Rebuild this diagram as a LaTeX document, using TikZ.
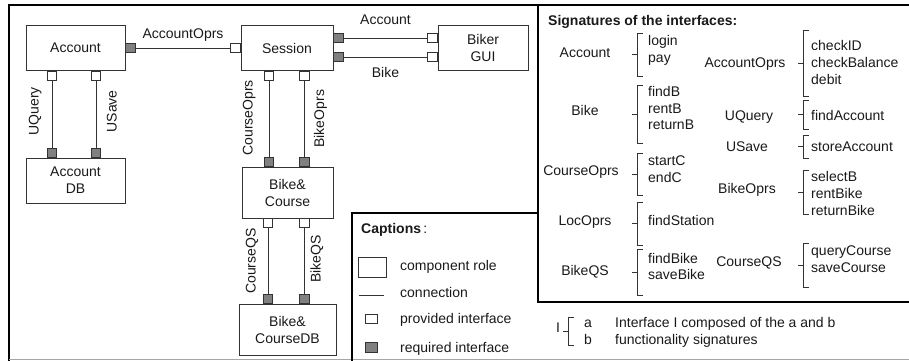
\documentclass[tikz,border=0pt]{standalone}
\usepackage{fontspec}
\setmainfont{Liberation Sans}
\usetikzlibrary{positioning}
\tikzstyle{comp} = [rectangle, draw=black!80, line width=0.8pt, align=center, minimum width=99pt, minimum height=45pt, inner sep=0pt]
\tikzstyle{prov} = [rectangle, draw=black!80, fill=white, line width=0.8pt, minimum width=9.5pt, minimum height=9pt, inner sep=0pt]
\tikzstyle{req} = [prov, fill=black!50]
\tikzstyle{conn} = [draw=black!80, line width=0.8pt]
\tikzstyle{frame} = [line width=2pt, black]
\tikzstyle{lbl} = [inner sep=1pt, text height=10pt, text depth=3pt]
\tikzstyle{itm} = [lbl, anchor=west]
\tikzstyle{brk} = [draw=black!80, line width=0.8pt]
\newcommand{\sigbrack}[3]{%
  \draw[brk] (#1+6,#2) -- (#1,#2) -- (#1,#3) -- (#1+6,#3);
  \draw[brk] (#1-5,{(#2+#3)/2}) -- (#1,{(#2+#3)/2});}

\begin{document}
\begin{tikzpicture}[x=1pt, y=-1pt, font=\fontsize{14}{17}\selectfont, text=black!90]
        \useasboundingbox (0,0) rectangle (909,360);
        % frames
        \draw[frame] (9,361) -- (9,5) -- (911,5);
        \draw[black!35, line width=0.8pt] (9,359.5) -- (909,359.5);
        \draw[frame] (538,5) -- (538,302) -- (911,302);
        \draw[frame] (352,362) -- (352,213) -- (538,213);

        % component roles
        \node (acc) [comp] at (75.5,48) {Account};
        \node (accdb) [comp] at (75.5,180.5) {Account\\DB};
        \node (sess) [comp, minimum width=92pt] at (287,48) {Session};
        \node (gui) [comp, minimum width=90pt] at (483,47.5) {Biker\\GUI};
        \node (bc) [comp, minimum width=91pt, minimum height=51pt] at (287.5,192.5) {Bike\&\\Course};
        \node (bcdb) [comp, minimum width=97pt, minimum height=51pt] at (287.5,329.5) {Bike\&\\CourseDB};

        % interfaces
        \node (accR) [req, right=0pt of acc] {};
        \node (sessL) [prov, left=0pt of sess] {};
        \node (accB1) [prov, below=0pt of acc, xshift=-23.5pt] {};
        \node (accB2) [prov, below=0pt of acc, xshift=20.5pt] {};
        \node (accdbT1) [req, above=0pt of accdb, xshift=-23.5pt] {};
        \node (accdbT2) [req, above=0pt of accdb, xshift=20.5pt] {};
        \node (sessR1) [req, right=0pt of sess, yshift=10pt] {};
        \node (sessR2) [req, right=0pt of sess, yshift=-9pt] {};
        \node (guiL1) [prov, left=0pt of gui, yshift=9.5pt] {};
        \node (guiL2) [prov, left=0pt of gui, yshift=-9.5pt] {};
        \node (sessB1) [prov, below=0pt of sess, xshift=-18pt] {};
        \node (sessB2) [prov, below=0pt of sess, xshift=17.5pt] {};
        \node (bcT1) [req, above=0pt of bc, xshift=-18.5pt] {};
        \node (bcT2) [req, above=0pt of bc, xshift=17pt] {};
        \node (bcB1) [prov, below=0pt of bc, xshift=-19.5pt] {};
        \node (bcB2) [prov, below=0pt of bc, xshift=17pt] {};
        \node (bcdbT1) [req, above=0pt of bcdb, xshift=-19.5pt] {};
        \node (bcdbT2) [req, above=0pt of bcdb, xshift=17pt] {};

        % connections
        \draw[conn] (accR) -- node[lbl, above=5pt]{AccountOprs} (sessL);
        \draw[conn] (accB1) -- node[lbl, xshift=-17pt, yshift=3pt, rotate=90]{UQuery} (accdbT1);
        \draw[conn] (accB2) -- node[lbl, xshift=17pt, yshift=3pt, rotate=90]{USave} (accdbT2);
        \draw[conn] (sessR1) -- node[lbl, above=9pt]{Account} (guiL1);
        \draw[conn] (sessR2) -- node[lbl, below=9pt]{Bike} (guiL2);
        \draw[conn] (sessB1) -- node[lbl, xshift=-20pt, yshift=1pt, rotate=90]{CourseOprs} (bcT1);
        \draw[conn] (sessB2) -- node[lbl, xshift=16pt, yshift=0pt, rotate=90]{BikeOprs} (bcT2);
        \draw[conn] (bcB1) -- node[lbl, xshift=-16pt, rotate=90]{CourseQS} (bcdbT1);
        \draw[conn] (bcB2) -- node[lbl, xshift=12.5pt, yshift=2pt, rotate=90]{BikeQS} (bcdbT2);

        % captions
        \node (capTitle) [itm] at (360,229.5) {\bfseries Captions\,\normalfont:};
        \node (keyComp) [comp, minimum width=28pt, minimum height=20pt] at (372,267) {};
        \node (keyCompTxt) [itm] at (399,266.5) {component role};
        \coordinate (keyConnA) at (359,295);
        \coordinate (keyConnB) at (384,295);
        \draw[conn] (keyConnA) -- (keyConnB);
        \node (keyConnTxt) [itm] at (399,293.5) {connection};
        \node (keyProv) [prov, minimum width=12pt, minimum height=8.5pt] at (371.5,319) {};
        \node (keyProvTxt) [itm] at (399,319.5) {provided interface};
        \node (keyReq) [req, minimum width=12pt, minimum height=10pt] at (371.5,347) {};
        \node (keyReqTxt) [itm] at (399,348.5) {required interface};

        % signatures
        \node (sigTitle) [itm] at (547,21.5) {\bfseries Signatures of the interfaces:};
        \node (sigAcc) [lbl] at (585,53.5) {Account};
        \sigbrack{637}{33}{76}
        \node (itLogin) [itm] at (647,41.5) {login};
        \node (itPay) [itm] at (647,58.5) {pay};
        \node (sigBike) [lbl] at (585,111.5) {Bike};
        \sigbrack{637}{85}{143}
        \node (itFindB) [itm] at (647,92.5) {findB};
        \node (itRentB) [itm] at (647,109.5) {rentB};
        \node (itReturnB) [itm] at (647,126) {returnB};
        \node (sigCourseOprs) [lbl] at (581,171.5) {CourseOprs};
        \sigbrack{637}{153}{195}
        \node (itStartC) [itm] at (647,161.5) {startC};
        \node (itEndC) [itm] at (647,178.5) {endC};
        \node (sigLocOprs) [lbl] at (585,222) {LocOprs};
        \sigbrack{637}{202}{245}
        \node (itFindStation) [itm] at (647,222) {findStation};
        \node (sigBikeQS) [lbl] at (585,271.5) {BikeQS};
        \sigbrack{637}{249}{295}
        \node (itFindBike) [itm] at (647,259.5) {findBike};
        \node (itSaveBike) [itm] at (647,276) {saveBike};

        \node (sigAccOprs) [lbl] at (745,63.5) {AccountOprs};
        \sigbrack{803}{30}{96}
        \node (itCheckID) [itm] at (810,46.5) {checkID};
        \node (itCheckBal) [itm] at (810,63.5) {checkBalance};
        \node (itDebit) [itm] at (810,80.5) {debit};
        \node (sigUQuery) [lbl] at (749,116.5) {UQuery};
        \sigbrack{803}{100}{129}
        \node (itFindAcc) [itm] at (810,116.5) {findAccount};
        \node (sigUSave) [lbl] at (747,148) {USave};
        \sigbrack{803}{135}{158}
        \node (itStoreAcc) [itm] at (810,148) {storeAccount};
        \node (sigBikeOprs) [lbl] at (747,189.5) {BikeOprs};
        \sigbrack{803}{170}{214}
        \node (itSelectB) [itm] at (810,177.5) {selectB};
        \node (itRentBike) [itm] at (810,194.5) {rentBike};
        \node (itReturnBike) [itm] at (810,212) {returnBike};
        \node (sigCourseQS) [lbl] at (749,262.5) {CourseQS};
        \sigbrack{803}{243}{287}
        \node (itQueryC) [itm] at (810,251.5) {queryCourse};
        \node (itSaveC) [itm] at (810,268.5) {saveCourse};

        % reading key
        \node (keyI) [lbl] at (558,329) {I};
        \sigbrack{568}{317}{345}
        \node (keyA) [itm] at (583,323.5) {a};
        \node (keyB) [itm] at (583,341) {b};
        \node (keyTxtA) [itm] at (614,323.5) {Interface I composed of the a and b};
        \node (keyTxtB) [itm] at (614,341) {functionality signatures};
        \end{tikzpicture}
\end{document}
